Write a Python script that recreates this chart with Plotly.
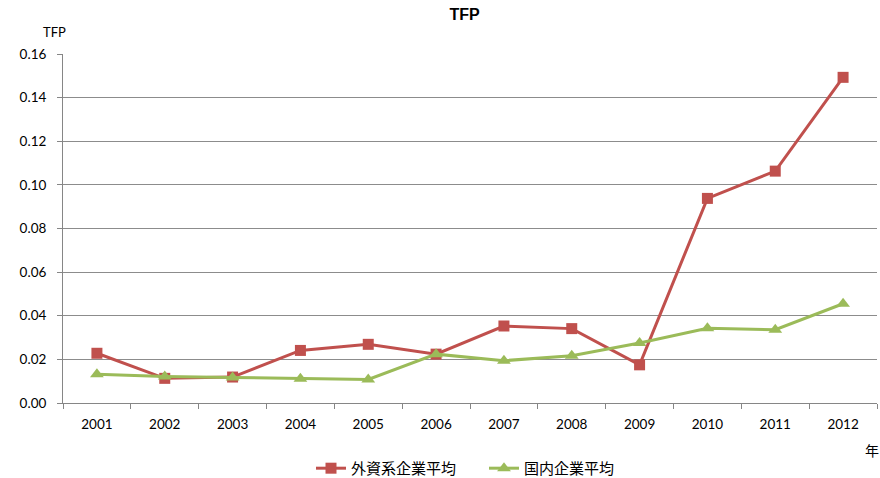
import plotly.graph_objects as go

years = ["2001", "2002", "2003", "2004", "2005", "2006", "2007", "2008", "2009", "2010", "2011", "2012"]
foreign_avg = [0.0228, 0.0113, 0.0119, 0.0241, 0.0269, 0.0224, 0.0353, 0.0341, 0.0175, 0.0938, 0.1063, 0.1493]
domestic_avg = [0.0132, 0.0122, 0.0117, 0.0111, 0.0108, 0.0224, 0.0194, 0.0217, 0.0275, 0.0343, 0.0336, 0.0455]
y_ticks = [0.00, 0.02, 0.04, 0.06, 0.08, 0.10, 0.12, 0.14, 0.16]

RED = "#C0504D"
GREEN = "#9BBB59"
FONT = "Lato, Carlito, Calibri, sans-serif"
CJK = "Noto Sans CJK JP"

fig = go.Figure()
fig.add_trace(go.Scatter(
    x=years, y=foreign_avg, name="外資系企業平均", mode="lines+markers",
    line=dict(color=RED, width=3),
    marker=dict(symbol="square", size=11, color=RED),
))
fig.add_trace(go.Scatter(
    x=years, y=domestic_avg, name="国内企業平均", mode="lines+markers",
    line=dict(color=GREEN, width=3),
    marker=dict(symbol="triangle-up", size=12, color=GREEN),
))

fig.update_layout(
    width=880, height=478,
    margin=dict(l=63, r=3, t=54, b=75, autoexpand=False),
    paper_bgcolor="white", plot_bgcolor="white",
    font=dict(family=FONT, size=13, color="#000000"),
    title=dict(text="<b>TFP</b>", x=0.528, xanchor="center", y=0.969, yanchor="middle",
               font=dict(family="Liberation Sans, Arial, sans-serif", size=16, color="#000")),
    showlegend=True,
    legend=dict(orientation="h", xref="container", yref="container",
                x=0.55, xanchor="center", y=0.02, yanchor="middle",
                font=dict(family=CJK, size=15, color="#000"),
                entrywidth=128, entrywidthmode="pixels",
                traceorder="normal"),
    xaxis=dict(
        type="category", range=[-0.5, 11.5], tickson="boundaries", ticks="outside", ticklen=5,
        tickcolor="#868686", showline=True, linecolor="#868686", linewidth=1,
        showgrid=False, tickfont=dict(family=FONT, size=13.5), ticklabelstandoff=9,
    ),
    yaxis=dict(
        range=[0, 0.16], tickvals=y_ticks, tickformat=".2f", ticks="outside", ticklen=5,
        tickcolor="#868686", showline=True, linecolor="#868686", linewidth=1,
        showgrid=True, gridcolor="#8C8C8C", gridwidth=1, zeroline=False,
        tickfont=dict(family=FONT, size=13.5), ticklabelstandoff=8,
    ),
    annotations=[
        dict(text="TFP", xref="paper", yref="paper", x=-0.01, y=1.063, xanchor="center",
             yanchor="middle", showarrow=False, font=dict(family=FONT, size=13)),
        dict(text="年", xref="paper", yref="paper", x=0.994, y=-0.135, xanchor="center",
             yanchor="middle", showarrow=False, font=dict(family=CJK, size=14)),
    ],
)

fig.write_html("out.html")
